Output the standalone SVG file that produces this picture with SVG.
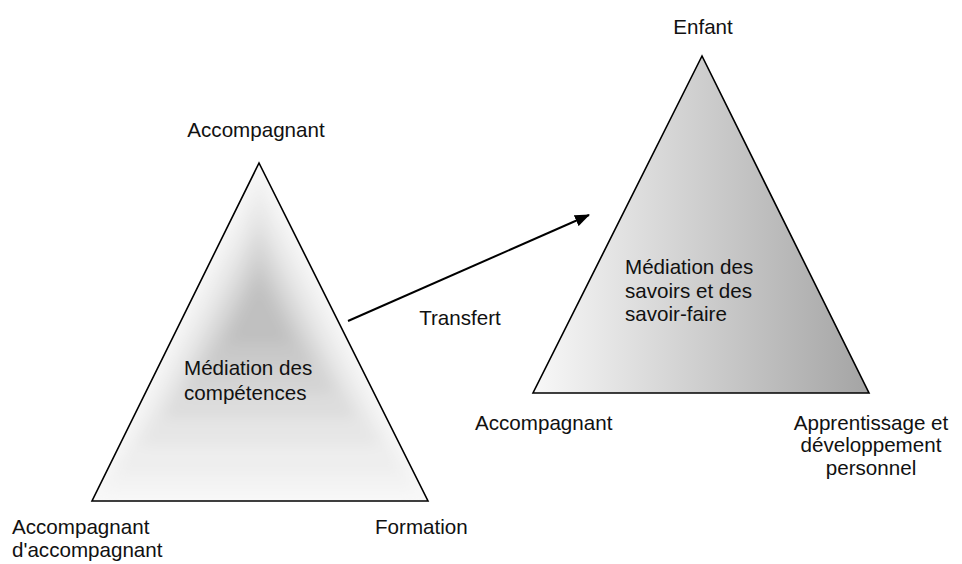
<svg xmlns="http://www.w3.org/2000/svg" width="962" height="564" viewBox="0 0 962 564">
  <style>
    .lbl { font-family: "Liberation Sans", Arial, sans-serif; font-size: 20.6px; fill: #111; }
    .mid { text-anchor: middle; }
    .edge { fill: none; stroke: #000; stroke-width: 1.6; stroke-linejoin: miter; }
    .link { fill: none; stroke: #000; stroke-width: 2; }
  </style>
  <defs>
    <marker id="arrowhead" viewBox="0 0 15 12" refX="14" refY="6" markerWidth="15" markerHeight="12" markerUnits="userSpaceOnUse" orient="auto">
      <path d="M0,0 L15,6 L0,12 Z" fill="#000"/>
    </marker>
    <linearGradient id="shadeRight" gradientUnits="userSpaceOnUse" x1="533" y1="0" x2="869" y2="0">
      <stop offset="0" stop-color="#f8f8f8"/>
      <stop offset="1" stop-color="#a4a4a4"/>
    </linearGradient>
    <polygon id="triLeft" points="259,163 92,501 428,501"/>
    <clipPath id="clipLeft">
      <polygon points="259,163 92,501 428,501"/>
    </clipPath>
    <filter id="soften" x="-20%" y="-20%" width="140%" height="140%">
      <feGaussianBlur stdDeviation="7"/>
    </filter>
  </defs>

  <!-- left triangle: shading grows darker toward the centre -->
  <g id="triangle-competences">
    <g clip-path="url(#clipLeft)">
      <rect x="80" y="150" width="360" height="360" fill="#f8f8f8"/>
      <g filter="url(#soften)">
        <use href="#triLeft" fill="#f3f3f3" transform="translate(259 305) scale(0.95) translate(-259 -305)"/>
        <use href="#triLeft" fill="#eeeeee" transform="translate(259 305) scale(0.86) translate(-259 -305)"/>
        <use href="#triLeft" fill="#e6e6e6" transform="translate(259 305) scale(0.72) translate(-259 -305)"/>
        <use href="#triLeft" fill="#dddddd" transform="translate(259 305) scale(0.58) translate(-259 -305)"/>
        <use href="#triLeft" fill="#d3d3d3" transform="translate(259 305) scale(0.45) translate(-259 -305)"/>
        <use href="#triLeft" fill="#c9c9c9" transform="translate(259 305) scale(0.32) translate(-259 -305)"/>
        <use href="#triLeft" fill="#c0c0c0" transform="translate(259 305) scale(0.2) translate(-259 -305)"/>
      </g>
    </g>
    <polygon class="edge" points="259,163 92,501 428,501"/>
    <text class="lbl" x="184" y="375">Médiation des</text>
    <text class="lbl" x="184" y="400">compétences</text>
  </g>

  <!-- right triangle: left-to-right grey ramp -->
  <g id="triangle-savoirs">
    <polygon points="702,56 533,393 869,393" fill="url(#shadeRight)"/>
    <polygon class="edge" points="702,56 533,393 869,393"/>
    <text class="lbl" x="625" y="274">Médiation des</text>
    <text class="lbl" x="625" y="298">savoirs et des</text>
    <text class="lbl" x="625" y="321">savoir-faire</text>
  </g>

  <!-- vertex labels -->
  <g id="label-accompagnant-top">
    <text class="lbl mid" x="256" y="137">Accompagnant</text>
  </g>
  <g id="label-accompagnant-accompagnant">
    <text class="lbl" x="12" y="534">Accompagnant</text>
    <text class="lbl" x="12" y="557">d'accompagnant</text>
  </g>
  <g id="label-formation">
    <text class="lbl" x="375" y="534">Formation</text>
  </g>
  <g id="label-enfant">
    <text class="lbl mid" x="703" y="34">Enfant</text>
  </g>
  <g id="label-accompagnant-right">
    <text class="lbl" x="475" y="430">Accompagnant</text>
  </g>
  <g id="label-apprentissage">
    <text class="lbl mid" x="871" y="430">Apprentissage et</text>
    <text class="lbl mid" x="871" y="452">développement</text>
    <text class="lbl mid" x="871" y="475">personnel</text>
  </g>

  <!-- connector -->
  <g id="connectors">
    <line class="link" x1="348" y1="321" x2="589" y2="215" marker-end="url(#arrowhead)"/>
    <text class="lbl mid" x="460" y="325">Transfert</text>
  </g>
</svg>
